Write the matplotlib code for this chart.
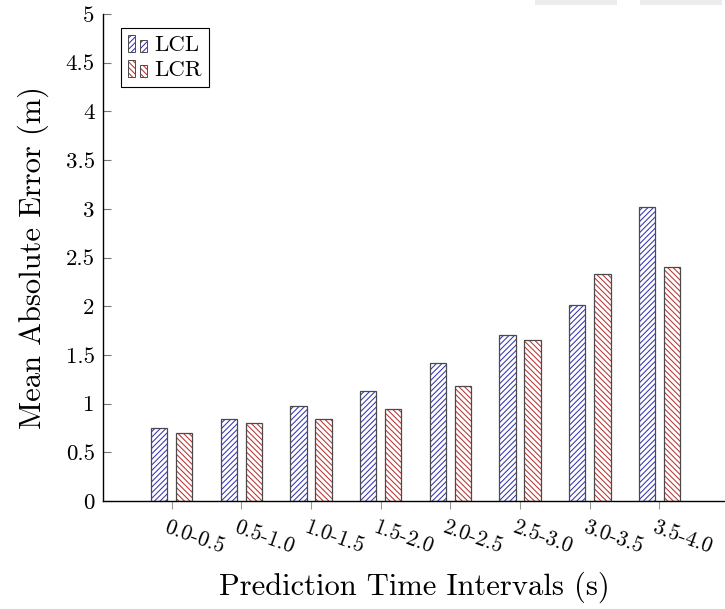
import numpy as np
import matplotlib
matplotlib.use('Agg')
import matplotlib.pyplot as plt
from matplotlib.legend_handler import HandlerBase
from matplotlib.patches import Rectangle
from matplotlib.transforms import ScaledTranslation

# data
intervals = ['0.0-0.5', '0.5-1.0', '1.0-1.5', '1.5-2.0',
             '2.0-2.5', '2.5-3.0', '3.0-3.5', '3.5-4.0']
lcl = [0.75, 0.84, 0.98, 1.13, 1.42, 1.70, 2.01, 3.02]
lcr = [0.70, 0.80, 0.84, 0.94, 1.18, 1.65, 2.33, 2.40]
yticks = [0, 0.5, 1, 1.5, 2, 2.5, 3, 3.5, 4, 4.5, 5]

BLUE = '#3434b0'
RED = '#b83434'
EDGE = '#4a4a4a'

plt.rcParams['font.family'] = 'cmr10'
plt.rcParams['mathtext.fontset'] = 'cm'
plt.rcParams['axes.formatter.use_mathtext'] = True
plt.rcParams['hatch.linewidth'] = 0.75


class TwoBars(HandlerBase):
    """pgfplots-like ybar legend image: two small hatched bars"""
    def create_artists(self, legend, orig, xd, yd, width, height, fontsize, trans):
        col = orig.get_edgecolor()
        hatch = orig.get_hatch()
        bw = width * 0.36
        arts = []
        for x0, h in [(0.0, 1.0), (width - bw, 0.7)]:
            r1 = Rectangle((x0 - xd, -yd), bw, height * h, facecolor='none',
                           edgecolor=col, hatch=hatch, linewidth=0, transform=trans)
            r2 = Rectangle((x0 - xd, -yd), bw, height * h, facecolor='none',
                           edgecolor=EDGE, linewidth=0.7, transform=trans)
            arts += [r1, r2]
        return arts


fig = plt.figure(figsize=(7.25, 6.09), dpi=100)
ax = fig.add_axes([103 / 725, 108 / 609, 622 / 725, 487 / 609])

x = np.arange(len(intervals))
w = 0.235
off = 0.18

h1 = None
for vals, sign, col, hatch in [(lcl, -1, BLUE, '//////'), (lcr, 1, RED, '\\\\\\\\\\\\')]:
    b = ax.bar(x + sign * off, vals, w, color='none', edgecolor=col,
               hatch=hatch, linewidth=0)
    ax.bar(x + sign * off, vals, w, color='none', edgecolor=EDGE, linewidth=0.9)
    if h1 is None:
        h1 = b.patches[0]
    else:
        h2 = b.patches[0]

ax.set_xlim(-0.986, 7.94)
ax.set_ylim(0, 5)

ax.spines['top'].set_visible(False)
ax.spines['right'].set_visible(False)
ax.spines['left'].set_linewidth(1.0)
ax.spines['bottom'].set_linewidth(1.0)

ax.set_yticks(yticks)
ax.set_yticklabels([f'{v:g}' for v in yticks])
ax.tick_params(axis='y', direction='in', length=5.5, width=0.8, color='#777777',
               labelsize=16.5, pad=6)
ax.tick_params(axis='x', direction='out', length=5.5, width=0.8, color='#999999',
               labelsize=15.5, pad=6)

ax.set_xticks(x)
ax.set_xticklabels(intervals, rotation=-20, ha='left', va='top',
                   rotation_mode='anchor')
for lab in ax.get_xticklabels():
    lab.set_transform(lab.get_transform() + ScaledTranslation(-2 / 72, 0, fig.dpi_scale_trans))

ax.set_ylabel('Mean Absolute Error (m)', fontsize=22, labelpad=12)
ax.set_xlabel('Prediction Time Intervals (s)', fontsize=22, labelpad=11)

leg = ax.legend([h1, h2], ['LCL', 'LCR'], loc='upper left',
                bbox_to_anchor=(0.029, 0.971), borderaxespad=0,
                handler_map={h1: TwoBars(), h2: TwoBars()},
                handlelength=0.85, handleheight=0.75, handletextpad=0.3,
                labelspacing=0.2, borderpad=0.3, fontsize=16.5,
                fancybox=False, framealpha=1, edgecolor='black')
leg.get_frame().set_linewidth(0.8)

# faint grey tabs at the top right of the screenshot
for x0 in (535, 640):
    fig.patches.append(Rectangle((x0 / 725, 1 - 5 / 609), 82 / 725, 5 / 609,
                                 transform=fig.transFigure, facecolor='#ececec',
                                 edgecolor='none'))

fig.savefig('out.png', dpi=100)
